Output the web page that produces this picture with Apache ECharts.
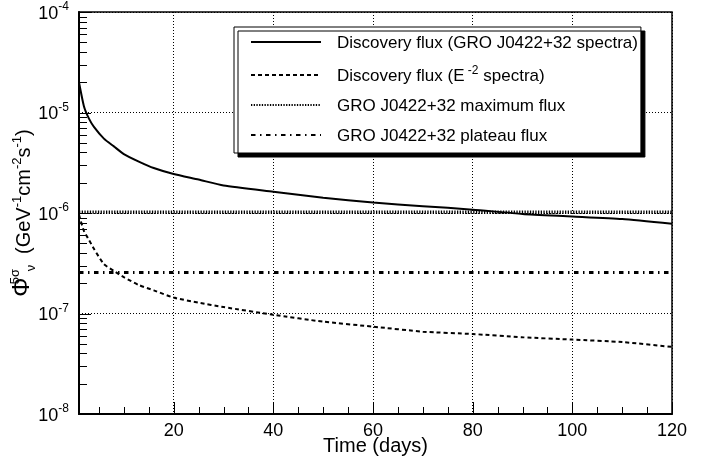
<!DOCTYPE html>
<html><head><meta charset="utf-8">
<script src="https://cdn.jsdelivr.net/npm/echarts@6/dist/echarts.min.js"></script>
<style>html,body{margin:0;padding:0;background:#fff}#c{width:713px;height:461px}</style>
</head><body><div id="c"></div>
<script>
// ---- data ----
const days = [1, 2, 3, 4, 6, 8, 10, 13, 16, 20, 25, 30, 40, 50, 60, 70, 80, 90, 100, 110, 120];
const discoveryGRO = [2.0e-5, 1.15e-5, 8.7e-6, 7.2e-6, 5.5e-6, 4.6e-6, 3.86e-6, 3.25e-6, 2.8e-6, 2.44e-6, 2.15e-6, 1.88e-6, 1.63e-6, 1.42e-6, 1.27e-6, 1.17e-6, 1.08e-6, 0.98e-6, 9.25e-7, 8.7e-7, 7.8e-7];
const discoveryE2 = [9.6e-7, 6.6e-7, 5.4e-7, 4.4e-7, 3.1e-7, 2.65e-7, 2.3e-7, 1.92e-7, 1.7e-7, 1.44e-7, 1.28e-7, 1.16e-7, 9.7e-8, 8.3e-8, 7.4e-8, 6.6e-8, 6.25e-8, 5.8e-8, 5.5e-8, 5.2e-8, 4.65e-8];
const flatDays = [1, 120];
const maxFlux = [1.02e-6, 1.02e-6];
const plateauFlux = [2.56e-7, 2.56e-7];
const seriesNames = ['Discovery flux (GRO J0422+32 spectra)', 'Discovery flux (E-2 spectra)', 'GRO J0422+32 maximum flux', 'GRO J0422+32 plateau flux'];
const xTicks = [20, 40, 60, 80, 100, 120];
const xMinorTicks = [5, 10, 15, 25, 30, 35, 45, 50, 55, 65, 70, 75, 85, 90, 95, 105, 110, 115];
const yTicks = [1e-8, 1e-7, 1e-6, 1e-5, 1e-4];
const yMinorMantissas = [2, 3, 4, 5, 6, 7, 8, 9];
const yMinorTicks = [];
yTicks.slice(0, 4).forEach(d => yMinorMantissas.forEach(m => yMinorTicks.push(+(m * d).toPrecision(3))));
const xMin = 1, xMax = 120, yMin = 1e-8, yMax = 1e-4;

const pairs = (xs, ys) => xs.map((x, i) => [x, ys[i]]);
const FONT = 'Liberation Sans, Arial, Helvetica, sans-serif';
const dotted = { color: '#000', width: 1, type: [1, 2] };

const chart = echarts.init(document.getElementById('c'));
chart.setOption({
  animation: false,
  backgroundColor: '#fff',
  textStyle: { fontFamily: FONT },
  grid: { left: 79, right: 41, top: 12, bottom: 47, containLabel: false, outerBoundsMode: 'none',
          show: true, borderColor: '#000', borderWidth: 1.5, backgroundColor: 'transparent' },
  legend: {
    orient: 'vertical', left: 234, top: 27,
    padding: [8, 3, 8, 16], itemGap: 13,
    itemWidth: 70, itemHeight: 14,
    backgroundColor: '#fff', borderColor: '#000', borderWidth: 1,
    shadowColor: '#000', shadowBlur: 0, shadowOffsetX: 4, shadowOffsetY: 4,
    itemStyle: { color: 'rgba(0,0,0,0)', borderColor: 'rgba(0,0,0,0)', borderWidth: 0, opacity: 0 },
    data: seriesNames,
    formatter: function (name) {
      if (name === seriesNames[1]) return '{n|Discovery flux (E}{s| -2}{n| spectra)}';
      return '{n|' + name + '}';
    },
    textStyle: {
      color: '#000', fontFamily: FONT, fontSize: 17, padding: [0, 0, 0, 11],
      rich: {
        n: { fontSize: 17, lineHeight: 20, verticalAlign: 'bottom', fontFamily: FONT, color: '#000' },
        s: { fontSize: 12, lineHeight: 12, verticalAlign: 'top', fontFamily: FONT, color: '#000' }
      }
    }
  },
  xAxis: {
    type: 'value', min: xMin, max: xMax, position: 'bottom',
    name: 'Time (days)', nameLocation: 'middle', nameGap: 22, nameMoveOverlap: false,
    nameTextStyle: { fontSize: 20, color: '#000', fontFamily: FONT },
    axisLine: { show: true, onZero: false, lineStyle: { color: '#000', width: 2 } },
    axisTick: { show: false, customValues: xTicks },
    axisLabel: { show: true, customValues: xTicks, fontSize: 18, color: '#000', margin: 8, fontFamily: FONT },
    splitLine: { show: true, lineStyle: dotted }
  },
  yAxis: {
    type: 'log', logBase: 10, min: yMin, max: yMax, position: 'left',
    name: '{p|Φ}{sp|5σ}{sb|ν}{t| (GeV}{s|-1}{t|cm}{s|-2}{t|s}{s|-1}{t|)}',
    nameLocation: 'middle', nameRotate: 90, nameGap: 41, nameMoveOverlap: false,
    nameTextStyle: {
      color: '#000', fontFamily: FONT,
      rich: {
        p: { fontSize: 24, verticalAlign: 'bottom', padding: [0, 1, 4, 0], color: '#000', fontFamily: FONT },
        t: { fontSize: 20, verticalAlign: 'bottom', padding: [0, 0, 4, 0], color: '#000', fontFamily: FONT },
        sp: { fontSize: 13, verticalAlign: 'bottom', align: 'left', padding: [0, 0, 16, 0], width: 0, color: '#000', fontFamily: FONT },
        sb: { fontSize: 13, verticalAlign: 'bottom', align: 'left', width: 17, color: '#000', fontFamily: FONT },
        s: { fontSize: 13, verticalAlign: 'bottom', padding: [0, 0, 14, 0], color: '#000', fontFamily: FONT }
      }
    },
    axisLine: { show: true, onZero: false, lineStyle: { color: '#000', width: 2 } },
    axisTick: { show: false, customValues: yTicks },
    axisLabel: {
      show: true, customValues: yTicks, margin: 10,
      formatter: function (v) { return '{b|10}{e|' + Math.round(Math.log10(v)) + '}'; },
      rich: {
        b: { fontSize: 18, verticalAlign: 'bottom', color: '#000', fontFamily: FONT },
        e: { fontSize: 12, verticalAlign: 'bottom', padding: [0, 0, 10, 0], color: '#000', fontFamily: FONT }
      }
    },
    splitLine: { show: true, lineStyle: dotted }
  },
  series: [{
    name: seriesNames[0], type: 'line',
    data: pairs(days, discoveryGRO), symbol: 'none', smooth: 0.2,
    lineStyle: { color: '#000', width: 2, type: 'solid' }, itemStyle: { color: '#000' }
  }, {
    name: seriesNames[1], type: 'line',
    data: pairs(days, discoveryE2), symbol: 'none', smooth: 0.2,
    lineStyle: { color: '#000', width: 2, type: [4, 3] }, itemStyle: { color: '#000' }
  }, {
    name: seriesNames[2], type: 'line',
    data: pairs(flatDays, maxFlux), symbol: 'none',
    lineStyle: { color: '#000', width: 3.5, type: [1.3, 1.4] }, itemStyle: { color: '#000' }
  }, {
    name: seriesNames[3], type: 'line',
    data: pairs(flatDays, plateauFlux), symbol: 'none',
    lineStyle: { color: '#000', width: 3, type: [4.5, 4.5, 1.5, 4.5] }, itemStyle: { color: '#000' }
  }]
});

// tick marks: positions converted through the chart's own axis scales
function tickLines(values, onX, len) {
  return values.map(function (v) {
    const p = chart.convertToPixel({ gridIndex: 0 }, onX ? [v, yMin] : [xMin, v]);
    if (onX) {
      const x = Math.round(p[0]) + 0.5;
      return { type: 'line', silent: true, z: 100, shape: { x1: x, y1: p[1], x2: x, y2: p[1] - len }, style: { stroke: '#000', lineWidth: 1 } };
    }
    const y = Math.round(p[1]) + 0.5;
    return { type: 'line', silent: true, z: 100, shape: { x1: p[0], y1: y, x2: p[0] + len, y2: y }, style: { stroke: '#000', lineWidth: 1 } };
  });
}
chart.setOption({
  graphic: {
    elements: [].concat(
      tickLines(yTicks, false, 12), tickLines(yMinorTicks, false, 8),
      tickLines(xTicks, true, 12), tickLines(xMinorTicks, true, 7))
  }
});
</script>
</body></html>
